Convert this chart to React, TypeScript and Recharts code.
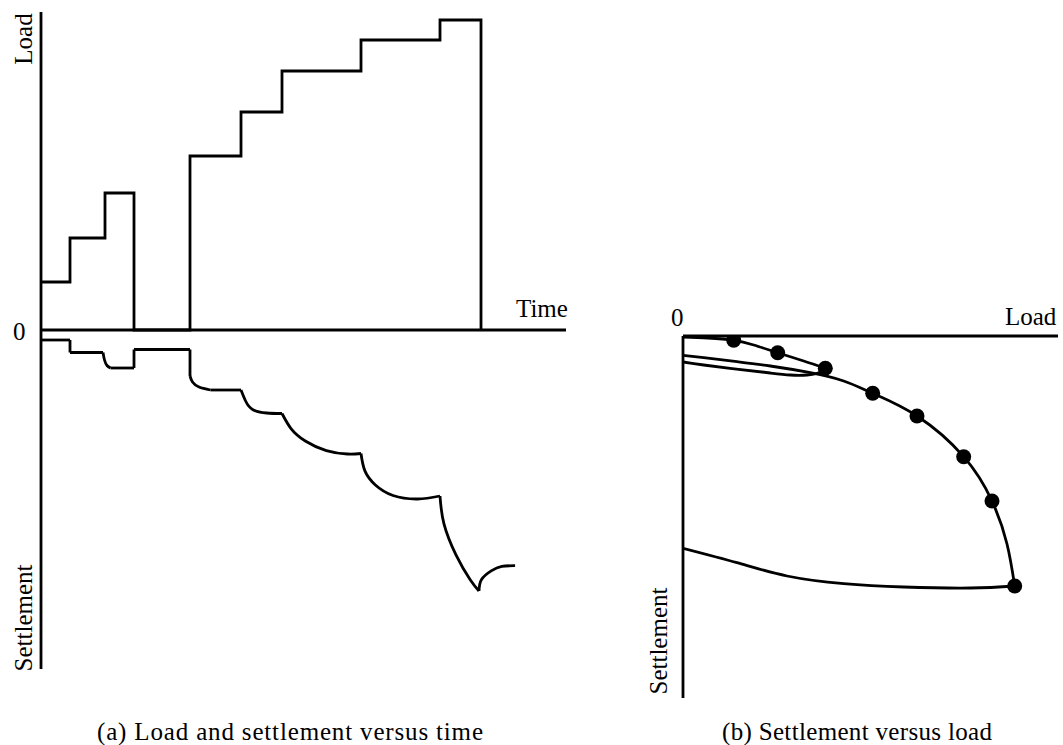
import React from 'react';
import { ComposedChart, Line, Scatter, XAxis, YAxis, ReferenceLine } from 'recharts';

// (a) load history: time at which each load level starts, and the level held
const loadTimes = [0, 2.9, 6.4, 9.3, 14.9, 20.0, 24.1, 32.0, 39.9, 44.0];
const loadLevels = [4.8, 9.2, 13.7, 0, 17.4, 21.8, 25.9, 29.0, 31.0, 0];

// (a) settlement history (negative = downwards), split at the sharp corners
// so every piece can be smoothed on its own
const settlementPieces: number[][][] = [
  [[0, -1.0], [2.9, -1.0]],
  [[2.9, -1.0], [2.9, -2.25]],
  [[2.9, -2.25], [6.2, -2.25]],
  [[6.2, -2.25], [6.35, -3.0], [6.6, -3.55], [6.95, -3.8]],
  [[6.95, -3.8], [9.3, -3.8]],
  [[9.3, -3.8], [9.3, -1.95]],
  [[9.3, -1.95], [14.9, -1.95]],
  [[14.9, -1.95], [14.9, -4.6]],
  [[14.9, -4.6], [15.15, -5.2], [15.8, -5.7], [16.95, -6.0]],
  [[16.95, -6.0], [20.0, -6.0]],
  [[20.0, -6.0], [20.46, -7.1], [21.16, -7.95], [22.57, -8.3], [24.1, -8.35]],
  [[24.1, -8.35], [25.02, -9.88], [26.43, -11.1], [28.53, -12.06], [30.64, -12.4], [32.0, -12.35]],
  [[32.0, -12.35], [32.39, -14.09], [33.44, -15.5], [35.2, -16.55], [37.65, -16.9], [39.9, -16.6]],
  [[39.9, -16.6], [40.29, -19.36], [41.51, -22.51], [42.92, -24.97], [43.8, -26.1]],
  [[43.8, -26.1], [44.04, -24.97], [45.02, -24.09], [46.08, -23.64], [47.41, -23.57]],
];

// (b) end-of-stage readings
const dotLoads = [5.07, 9.47, 14.23, 18.97, 23.4, 28.07, 30.9, 33.17];
const dotSettlements = [0.43, 1.67, 3.23, 5.73, 8.0, 12.07, 16.5, 25.0];

// (b) load-settlement curves: [load, settlement]
const firstLoading = [[0, 0.1], [2.5, 0.2], [5.07, 0.43], [7.07, 0.9], [9.47, 1.67], [12.07, 2.5], [14.23, 3.23]];
const firstUnloading = [[0, 2.6], [2.07, 2.9], [5.57, 3.33], [8.73, 3.7], [10.73, 3.9], [12.4, 3.9], [13.57, 3.67], [14.23, 3.23]];
const reloading = [
  [0, 1.93], [2.07, 2.17], [5.4, 2.57], [8.73, 3.0], [12.73, 3.67], [16.07, 4.5],
  [18.97, 5.73], [23.4, 8.0], [28.07, 12.07], [30.9, 16.5], [32.4, 20.8], [33.17, 25.0],
];
const finalUnloading = [[0, 21.23], [5.4, 22.67], [10.4, 24.0], [16.07, 24.77], [22.07, 25.1], [28.73, 25.2], [33.17, 25.0]];

const INK = '#000';
const LW = 2.8;
const serif = '"Liberation Serif", "Times New Roman", serif';

const toTV = (pairs: number[][]) => pairs.map(([t, v]) => ({ t, v }));
const toPS = (pairs: number[][]) => pairs.map(([p, s]) => ({ p, s }));

const loadData = loadTimes.map((t, i) => ({ t, v: loadLevels[i] }));
const dotData = dotLoads.map((p, i) => ({ p, s: dotSettlements[i] }));

const Dot = (props: any) => <circle cx={props.cx} cy={props.cy} r={7.5} fill={INK} />;

function TimeChart() {
  return (
    <ComposedChart width={600} height={745} margin={{ top: 12, left: 41, right: 34, bottom: 76 }}>
      <XAxis type="number" dataKey="t" domain={[0, 52.5]} allowDataOverflow hide />
      <YAxis type="number" dataKey="v" domain={[-33.9, 31.8]} allowDataOverflow hide />
      <ReferenceLine x={0} stroke={INK} strokeWidth={LW} />
      <ReferenceLine y={0} stroke={INK} strokeWidth={LW} />
      <Line
        data={loadData}
        dataKey="v"
        type="stepAfter"
        stroke={INK}
        strokeWidth={LW}
        dot={false}
        activeDot={false}
        isAnimationActive={false}
      />
      {settlementPieces.map((piece, i) => (
        <Line
          key={i}
          data={toTV(piece)}
          dataKey="v"
          type="natural"
          stroke={INK}
          strokeWidth={LW}
          dot={false}
          activeDot={false}
          isAnimationActive={false}
        />
      ))}
    </ComposedChart>
  );
}

function LoadChart() {
  const curves = [firstLoading, firstUnloading, reloading, finalUnloading];
  return (
    <ComposedChart width={423} height={745} margin={{ top: 336, left: 43, right: 5, bottom: 47 }}>
      <XAxis type="number" dataKey="p" domain={[0, 37.5]} allowDataOverflow hide />
      <YAxis type="number" dataKey="s" domain={[0, 36.2]} reversed allowDataOverflow hide />
      <ReferenceLine x={0} stroke={INK} strokeWidth={LW} />
      <ReferenceLine y={0} stroke={INK} strokeWidth={LW} />
      {curves.map((c, i) => (
        <Line
          key={i}
          data={toPS(c)}
          dataKey="s"
          type="natural"
          stroke={INK}
          strokeWidth={LW}
          dot={false}
          activeDot={false}
          isAnimationActive={false}
        />
      ))}
      <Scatter data={dotData} dataKey="s" shape={Dot} isAnimationActive={false} />
    </ComposedChart>
  );
}

export default function App() {
  return (
    <div style={{ position: 'absolute', left: 0, top: 0, width: 1063, height: 745, background: '#fff' }}>
      <div style={{ position: 'absolute', left: 0, top: 0 }}>
        <TimeChart />
      </div>
      <div style={{ position: 'absolute', left: 640, top: 0 }}>
        <LoadChart />
      </div>
      <svg
        width={1063}
        height={745}
        style={{ position: 'absolute', left: 0, top: 0, pointerEvents: 'none' }}
      >
        <g fontFamily={serif} fontSize={25} fill={INK}>
          <text x={32} y={39} transform="rotate(-90 32 39)" textAnchor="middle">Load</text>
          <text x={13} y={340}>0</text>
          <text x={516} y={317}>Time</text>
          <text x={32} y={618} transform="rotate(-90 32 618)" textAnchor="middle">Settlement</text>
          <text x={97} y={740} textLength={386} lengthAdjust="spacing">(a) Load and settlement versus time</text>

          <text x={671} y={326}>0</text>
          <text x={1005} y={325}>Load</text>
          <text x={667} y={641} transform="rotate(-90 667 641)" textAnchor="middle">Settlement</text>
          <text x={722} y={740} textLength={270} lengthAdjust="spacing">(b) Settlement versus load</text>
        </g>
      </svg>
    </div>
  );
}
